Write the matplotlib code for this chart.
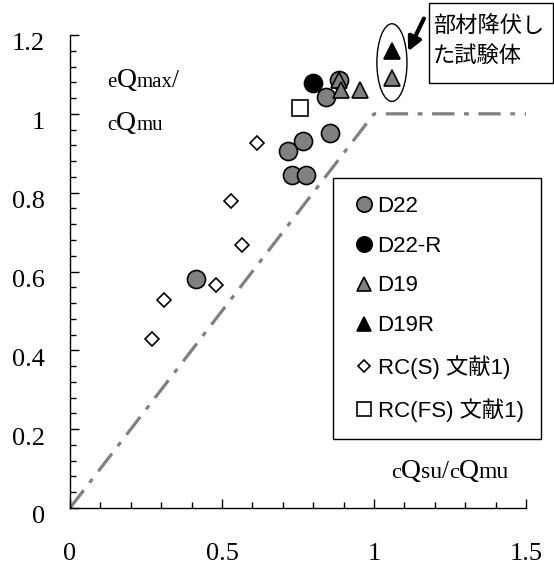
import matplotlib
matplotlib.use("Agg")
import matplotlib.pyplot as plt
import matplotlib.transforms as mtransforms
from matplotlib.patches import Ellipse, Rectangle
from matplotlib.offsetbox import TextArea, HPacker, AnnotationBbox
from matplotlib.ticker import MultipleLocator

SERIF = "Liberation Serif"
SANS = ["Liberation Sans", "Noto Sans CJK JP"]
JP = ["Noto Sans CJK JP", "DejaVu Sans"]

# cQsu/cQmu (x) vs eQmax/cQmu (y) per specimen group
d22_x = [0.413, 0.716, 0.729, 0.765, 0.776, 0.843, 0.855, 0.885]
d22_y = [0.580, 0.906, 0.845, 0.930, 0.846, 1.043, 0.951, 1.085]
d22r_x = [0.800]
d22r_y = [1.077]
d19_x = [0.885, 0.891, 0.954, 1.058]
d19_y = [1.085, 1.060, 1.060, 1.090]
d19r_x = [1.058]
d19r_y = [1.160]
rcs_x = [0.271, 0.309, 0.480, 0.530, 0.567, 0.616]
rcs_y = [0.430, 0.527, 0.566, 0.778, 0.668, 0.927]
rcfs_x = [0.757]
rcfs_y = [1.016]

# shear / flexure boundary
bound_x = [0.0, 1.0, 1.5]
bound_y = [0.0, 1.0, 1.0]

GRAY = "#808080"


def mixed_label(ax, parts, xy):
    # text made of pieces of different sizes sitting on one baseline
    boxes = [TextArea(s, textprops=dict(family=SERIF, fontsize=fs, color="black"))
             for s, fs in parts]
    pack = HPacker(children=boxes, align="baseline", pad=0, sep=0)
    ab = AnnotationBbox(pack, xy, xycoords="figure pixels", box_alignment=(0, 0),
                        frameon=False, pad=0, annotation_clip=False)
    ax.add_artist(ab)


fig = plt.figure(figsize=(5.54, 5.70), dpi=100)
ax = fig.add_axes([70 / 554, 62 / 570, 456 / 554, 473 / 570])

ax.plot(bound_x, bound_y, color=GRAY, lw=2.3, dashes=(7, 3, 1.5, 3), zorder=1)

ax.plot(d22_x, d22_y, "o", ms=13, mfc=GRAY, mec="black", mew=1.2, ls="none", label="D22", zorder=3)
ax.plot(d22r_x, d22r_y, "o", ms=13, mfc="black", mec="black", mew=1.2, ls="none", label="D22-R", zorder=3)
ax.plot(d19_x, d19_y, "^", ms=12, mfc=GRAY, mec="black", mew=1.2, ls="none", label="D19", zorder=4)
ax.plot(d19r_x, d19r_y, "^", ms=12, mfc="black", mec="black", mew=1.2, ls="none", label="D19R", zorder=4)
ax.plot(rcs_x, rcs_y, "D", ms=7.5, mfc="white", mec="black", mew=1.2, ls="none", label="RC(S) 文献1)", zorder=3)
ax.plot(rcfs_x, rcfs_y, "s", ms=12, mfc="white", mec="black", mew=1.2, ls="none", label="RC(FS) 文献1)", zorder=3)

# ring around the specimens that yielded
ax.add_patch(Ellipse((1.059, 1.13), 0.099, 0.197, fill=False, ec="black", lw=1.0,
                     clip_on=False, zorder=5))

ax.set_xlim(0, 1.5)
ax.set_ylim(0, 1.2)
ax.xaxis.set_minor_locator(MultipleLocator(0.1))
ax.yaxis.set_minor_locator(MultipleLocator(0.04))
ax.set_xticks([0, 0.5, 1, 1.5])
ax.set_xticklabels(["0", "0.5", "1", "1.5"])
ax.set_yticks([0, 0.2, 0.4, 0.6, 0.8, 1.0, 1.2])
ax.set_yticklabels(["0", "0.2", "0.4", "0.6", "0.8", "1", "1.2"])
for s in ("top", "right"):
    ax.spines[s].set_visible(False)
for s in ("left", "bottom"):
    ax.spines[s].set_linewidth(1.0)
ax.tick_params(which="major", direction="in", length=6.5, width=1.0, labelsize=19)
ax.tick_params(which="minor", direction="in", length=4.5, width=1.0)
ax.tick_params(axis="x", pad=25)
ax.tick_params(axis="y", pad=18)
for lab in ax.get_xticklabels() + ax.get_yticklabels():
    lab.set_family(SERIF)
shift = mtransforms.ScaledTranslation(0, -5 / 72, fig.dpi_scale_trans)
for lab in ax.get_yticklabels():
    lab.set_transform(lab.get_transform() + shift)

leg = ax.legend(loc="upper left", bbox_to_anchor=(0.577, 0.698), borderaxespad=0,
                prop=dict(family=SANS, size=16), markerscale=0.85, numpoints=1,
                handlelength=1.15, handletextpad=0.05, borderpad=0.8, labelspacing=0.85,
                fancybox=False, edgecolor="black", framealpha=1)
leg.get_frame().set_linewidth(1.0)
leg.set_zorder(6)

mixed_label(ax, [("e", 15), ("Q", 20), ("max", 15), ("/", 18)], (107, 477))
mixed_label(ax, [("c", 15), ("Q", 20), ("mu", 15)], (107, 434))
mixed_label(ax, [("c", 16), ("Q", 20), ("su", 17), ("/", 18), ("c", 16), ("Q", 20), ("mu", 17)], (391, 86))

# note box with arrow pointing at the yielded specimens
fig.patches.append(Rectangle((429 / 554, 487 / 570), 124 / 554, 80 / 570, transform=fig.transFigure,
                             fill=False, ec="black", lw=1.0))
fig.text(433 / 554, 1 - 25 / 570, "部材降伏し", family=JP, fontsize=16, va="center", ha="left")
fig.text(433 / 554, 1 - 55 / 570, "た試験体", family=JP, fontsize=16, va="center", ha="left")
ax.annotate("", xy=(1.108, 1.152), xytext=(1.168, 1.248), annotation_clip=False,
            arrowprops=dict(arrowstyle="-|>,head_length=0.8,head_width=0.4", color="black", lw=3))

fig.savefig("out.png", dpi=100)
